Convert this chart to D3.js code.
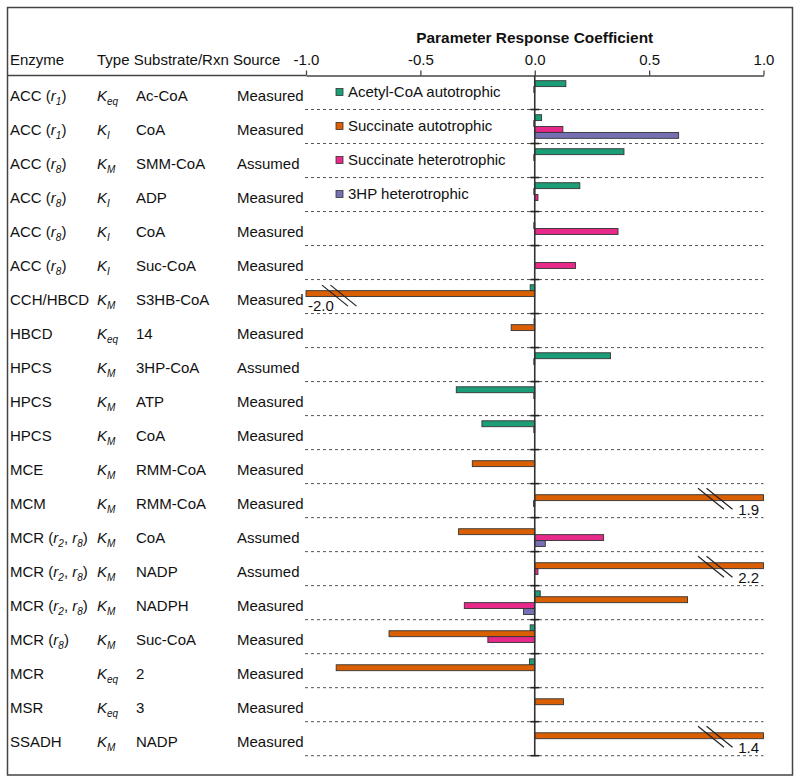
<!DOCTYPE html>
<html>
<head>
<meta charset="utf-8">
<script src="https://cdn.jsdelivr.net/npm/d3@7"></script>
<style>
  html, body { margin: 0; padding: 0; background: #fff; }
  svg { display: block; }
  text { font-family: "Liberation Sans", Arial, sans-serif; fill: #111; }
</style>
</head>
<body>
<svg id="chart" width="800" height="781"></svg>
<script>
// ---------- data ----------
const enzymes = ["ACC (r_1)","ACC (r_1)","ACC (r_8)","ACC (r_8)","ACC (r_8)","ACC (r_8)","CCH/HBCD","HBCD","HPCS","HPCS","HPCS","MCE","MCM","MCR (r_2, r_8)","MCR (r_2, r_8)","MCR (r_2, r_8)","MCR (r_8)","MCR","MSR","SSADH"];
const types = ["K_eq","K_I","K_M","K_I","K_I","K_I","K_M","K_eq","K_M","K_M","K_M","K_M","K_M","K_M","K_M","K_M","K_M","K_eq","K_eq","K_M"];
const substrates = ["Ac-CoA","CoA","SMM-CoA","ADP","CoA","Suc-CoA","S3HB-CoA","14","3HP-CoA","ATP","CoA","RMM-CoA","RMM-CoA","CoA","NADP","NADPH","Suc-CoA","2","3","NADP"];
const sources = ["Measured","Measured","Assumed","Measured","Measured","Measured","Measured","Measured","Assumed","Measured","Measured","Measured","Measured","Assumed","Assumed","Measured","Measured","Measured","Measured","Measured"];

const seriesNames = ["Acetyl-CoA autotrophic","Succinate autotrophic","Succinate heterotrophic","3HP heterotrophic"];
const seriesColors = ["#1b9e77","#d95f02","#e7298a","#7570b3"];
const acetylAuto = [0.136, 0.03, 0.39, 0.197, 0, 0, -0.02, -0.003, 0.331, -0.343, -0.231, 0, 0, 0, 0, 0.024, -0.02, -0.023, 0, 0];
const succinateAuto = [-0.004, -0.004, -0.004, -0.004, -0.004, 0, -2.0, -0.103, -0.004, -0.004, -0.004, -0.273, 1.9, -0.333, 2.2, 0.668, -0.637, -0.868, 0.126, 1.4];
const succinateHetero = [0, 0.123, 0, 0.014, 0.364, 0.178, 0, 0, 0, 0, 0, 0, -0.005, 0.301, 0.014, -0.308, -0.205, 0, 0, 0];
const hpHetero = [0, 0.629, 0, 0, 0, 0, 0, 0, 0, 0, 0, 0, 0, 0.046, 0, -0.049, 0, 0, 0, 0];
const seriesValues = [acetylAuto, succinateAuto, succinateHetero, hpHetero];

const axisTicks = [-1.0, -0.5, 0.0, 0.5, 1.0];
const axisTitle = "Parameter Response Coefficient";
const headerEnzyme = "Enzyme";
const headerRest = "Type Substrate/Rxn Source";

// ---------- layout ----------
const svg = d3.select("#chart");
const FS = 15;
const fmt = v => d3.format(".1f")(v).replace("\u2212", "-");
const x = d3.scaleLinear().domain([-1, 1]).range([306, 763.5]);
const y = d3.scaleBand().domain(d3.range(enzymes.length)).range([75.5, 755.7]);
const ys = d3.scaleBand().domain(d3.range(seriesNames.length)).range([0, y.bandwidth()]).paddingInner(0).paddingOuter(0.88);

// outer border
svg.append("rect").attr("x", 7.5).attr("y", 7.5).attr("width", 785).attr("height", 767.5)
  .attr("fill", "none").attr("stroke", "#444").attr("stroke-width", 1.5);

// header line to the left of axis
svg.append("line").attr("x1", 8).attr("x2", x(-1)).attr("y1", 75.5).attr("y2", 75.5)
  .attr("stroke", "#444").attr("stroke-width", 1.3);

// header texts
svg.append("text").attr("x", 10).attr("y", 65).attr("font-size", FS).text(headerEnzyme);
svg.append("text").attr("x", 97).attr("y", 65).attr("font-size", FS).attr("xml:space", "preserve").text(headerRest);
svg.append("text").attr("x", x(0)).attr("y", 43).attr("font-size", 15.4).attr("font-weight", "bold")
  .attr("text-anchor", "middle").text(axisTitle);

// top axis
const axis = d3.axisTop(x).tickValues(axisTicks).tickFormat(fmt).tickSize(5).tickSizeOuter(0).tickPadding(6);
const ag = svg.append("g").attr("transform", "translate(0,75.5)").call(axis);
ag.select(".domain").attr("stroke", "#444").attr("stroke-width", 1.3);
ag.selectAll(".tick line").attr("stroke", "#444").attr("stroke-width", 1.3);
ag.selectAll(".tick text").attr("font-size", FS).attr("font-family", "Liberation Sans, Arial, sans-serif").attr("fill", "#111");

// dashed row separators
svg.append("g").selectAll("line").data(d3.range(enzymes.length)).join("line")
  .attr("x1", x(-1) - 1).attr("x2", x(1))
  .attr("y1", d => y(d) + y.bandwidth()).attr("y2", d => y(d) + y.bandwidth())
  .attr("stroke", "#555").attr("stroke-width", 1).attr("stroke-dasharray", "3,3");

// rich text helper
function addRich(sel, str) {
  const parts = str.split(/(r_\d|K_\w+)/).filter(s => s.length);
  let sub = false;
  parts.forEach(p => {
    const m = p.match(/^([rK])_(\w+)$/);
    if (m) {
      sel.append("tspan").attr("font-style", "italic").attr("dy", sub ? -4 : 0).text(m[1]);
      sel.append("tspan").attr("font-style", "italic").attr("font-size", 10).attr("dy", 4).text(m[2]);
      sub = true;
    } else {
      sel.append("tspan").attr("dy", sub ? -4 : 0).text(p);
      sub = false;
    }
  });
}

// row labels
const rows = svg.append("g").selectAll("g").data(d3.range(enzymes.length)).join("g")
  .attr("transform", d => `translate(0,${y(d) + y.bandwidth() / 2 + 8})`);
rows.append("text").attr("x", 10).attr("font-size", FS).attr("xml:space", "preserve").each(function(d) { addRich(d3.select(this), enzymes[d]); });
rows.append("text").attr("x", 97).attr("font-size", FS).each(function(d) { addRich(d3.select(this), types[d]); });
rows.append("text").attr("x", 136).attr("font-size", FS).text(d => substrates[d]);
rows.append("text").attr("x", 237).attr("font-size", FS).text(d => sources[d]);

// bars
const barData = [];
seriesValues.forEach((vals, s) => vals.forEach((v, i) => { if (v !== 0) barData.push({ s, i, v }); }));
const clamp = v => Math.max(-1, Math.min(1, v));
svg.append("g").selectAll("rect").data(barData).join("rect")
  .attr("x", d => x(Math.min(0, clamp(d.v))))
  .attr("width", d => Math.abs(x(clamp(d.v)) - x(0)))
  .attr("y", d => y(d.i) + ys(d.s))
  .attr("height", ys.bandwidth())
  .attr("fill", d => seriesColors[d.s])
  .attr("stroke", "#333").attr("stroke-width", 0.9);

// zero line with row ticks
svg.append("line").attr("x1", x(0)).attr("x2", x(0)).attr("y1", 75.5).attr("y2", 755.7)
  .attr("stroke", "#333").attr("stroke-width", 1.6);
svg.append("g").selectAll("line").data(d3.range(enzymes.length)).join("line")
  .attr("x1", x(0) - 4.5).attr("x2", x(0) + 4.5)
  .attr("y1", d => y(d) + y.bandwidth()).attr("y2", d => y(d) + y.bandwidth())
  .attr("stroke", "#222").attr("stroke-width", 1.6);

// axis breaks for off-scale values
const breaks = barData.filter(d => Math.abs(d.v) > 1);
const bg = svg.append("g");
breaks.forEach(d => {
  const cy = y(d.i) + ys(d.s) + ys.bandwidth() / 2;
  if (d.v > 0) {
    const xe = x(1);
    [0, 8.5].forEach(off => {
      bg.append("line").attr("x1", xe - 65.5 + off).attr("y1", cy - 9.5)
        .attr("x2", xe - 39.5 + off).attr("y2", cy + 11.5)
        .attr("stroke", "#222").attr("stroke-width", 1.2);
    });
    bg.append("text").attr("x", xe - 4.5).attr("y", cy + 17).attr("text-anchor", "end")
      .attr("font-size", FS).text(fmt(d.v));
  } else {
    const xs = x(-1);
    [0, 8.5].forEach(off => {
      bg.append("line").attr("x1", xs + 16 + off).attr("y1", cy - 8.5)
        .attr("x2", xs + 42 + off).attr("y2", cy + 12.5)
        .attr("stroke", "#222").attr("stroke-width", 1.2);
    });
    bg.append("text").attr("x", xs + 2).attr("y", cy + 17.5).attr("text-anchor", "start")
      .attr("font-size", FS).text(fmt(d.v));
  }
});

// legend
const lg = svg.append("g").selectAll("g").data(seriesNames).join("g")
  .attr("transform", (d, i) => `translate(336,${y(i) + y.bandwidth() / 2 - 0.5})`);
lg.append("rect").attr("x", 0).attr("y", -3.5).attr("width", 7).attr("height", 7)
  .attr("fill", (d, i) => seriesColors[i]).attr("stroke", "#333").attr("stroke-width", 0.8);
lg.append("text").attr("x", 12).attr("y", 5).attr("font-size", FS).text(d => d);
</script>
</body>
</html>
